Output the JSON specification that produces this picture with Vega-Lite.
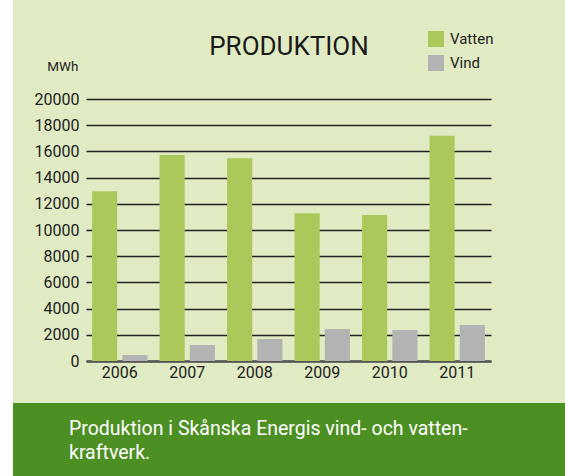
{
  "$schema": "https://vega.github.io/schema/vega-lite/v6.json",
  "background": "#ffffff",
  "padding": {"left": 13, "top": 0, "right": 0, "bottom": 0},
  "spacing": 0,
  "config": {"font": "Roboto", "view": {"stroke": null}},
  "vconcat": [
    {
      "width": 552,
      "height": 403,
      "view": {"fill": "#e0eac3", "stroke": null},
      "title": {"text": "PRODUKTION", "fontSize": 26, "fontWeight": "normal", "color": "#1a1a1a", "anchor": "middle", "frame": "group", "offset": -81, "baseline": "alphabetic", "font": "Roboto"},
      "data": {"values": [
        {"year": "2006", "series": "Vatten", "value": 12950},
        {"year": "2006", "series": "Vind", "value": 450},
        {"year": "2007", "series": "Vatten", "value": 15720},
        {"year": "2007", "series": "Vind", "value": 1220},
        {"year": "2008", "series": "Vatten", "value": 15470},
        {"year": "2008", "series": "Vind", "value": 1680},
        {"year": "2009", "series": "Vatten", "value": 11270},
        {"year": "2009", "series": "Vind", "value": 2440},
        {"year": "2010", "series": "Vatten", "value": 11150},
        {"year": "2010", "series": "Vind", "value": 2370},
        {"year": "2011", "series": "Vatten", "value": 17200},
        {"year": "2011", "series": "Vind", "value": 2750}
      ]},
      "mark": {"type": "bar"},
      "encoding": {
        "x": {
          "field": "year", "type": "nominal",
          "scale": {"range": [73, 478], "paddingInner": 0, "paddingOuter": 0},
          "axis": {"title": null, "orient": "bottom", "offset": -42, "labelAngle": 0, "labelFontSize": 16, "labelFont": "Roboto", "labelColor": "#222222", "labelPadding": 3, "ticks": false, "domain": true, "domainColor": "#555555", "domainWidth": 2.5, "grid": false}
        },
        "xOffset": {
          "field": "series", "type": "nominal",
          "scale": {"domain": ["Vatten", "Vind"], "paddingInner": 0.17, "paddingOuter": 0.2}
        },
        "y": {
          "field": "value", "type": "quantitative",
          "scale": {"domain": [0, 20000], "range": [361, 99], "nice": false, "zero": true},
          "axis": {
            "title": "MWh", "titleAngle": 0, "titleX": -8, "titleY": 70, "titleAlign": "right", "titleBaseline": "alphabetic",
            "titleFontSize": 13.5, "titleFontWeight": "normal", "titleColor": "#222222", "titleFont": "Roboto",
            "offset": -73,
            "values": [0, 2000, 4000, 6000, 8000, 10000, 12000, 14000, 16000, 18000, 20000],
            "format": "d",
            "domain": false, "ticks": false,
            "labelFontSize": 16, "labelFont": "Roboto", "labelPadding": 7, "labelColor": "#222222",
            "grid": true, "gridColor": "#222222", "gridWidth": 1.5, "gridOpacity": 1
          }
        },
        "color": {
          "field": "series", "type": "nominal",
          "scale": {"domain": ["Vatten", "Vind"], "range": ["#abc85a", "#b3b3b3"]},
          "legend": {"title": null, "orient": "none", "legendX": 415, "legendY": 31, "symbolType": "square", "symbolSize": 256, "symbolStrokeWidth": 0, "symbolOpacity": 1, "labelFontSize": 15, "labelFont": "Roboto", "labelColor": "#222222", "labelOffset": 6, "rowPadding": 8, "padding": 0}
        }
      }
    },
    {
      "width": 552,
      "height": 73,
      "view": {"fill": "#4c8f22", "stroke": null},
      "data": {"values": [{"caption": "Produktion i Skånska Energis vind- och vatten-\nkraftverk."}]},
      "mark": {"type": "text", "align": "left", "baseline": "alphabetic", "lineBreak": "\n", "lineHeight": 23.6, "fontSize": 19.5, "fontWeight": "normal", "color": "#ffffff", "font": "Roboto"},
      "encoding": {
        "text": {"field": "caption"},
        "x": {"value": 56},
        "y": {"value": 32}
      }
    }
  ]
}
